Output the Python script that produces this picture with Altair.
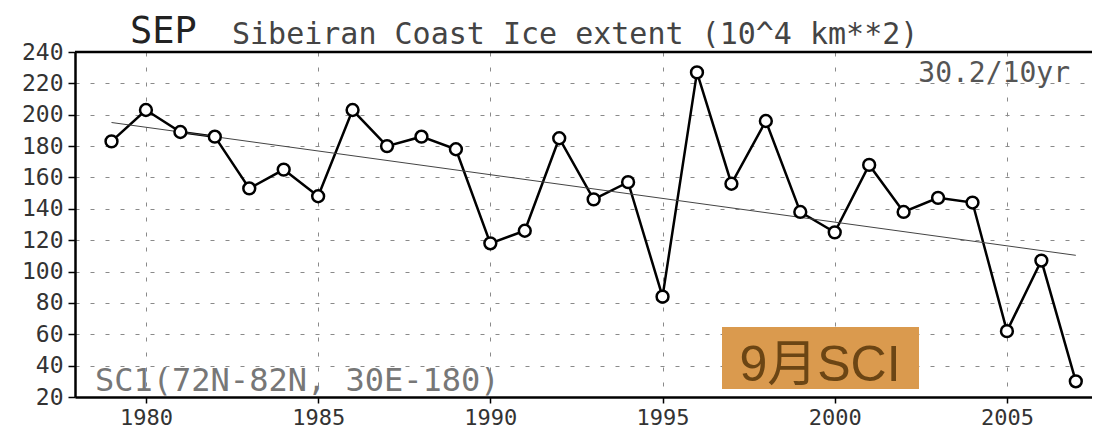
import altair as alt
import pandas as pd

# ---- data ----
years = list(range(1979, 2008))
extent = [183, 203, 189, 186, 153, 165, 148, 203, 180, 186, 178, 118, 126, 185,
          146, 157, 84, 227, 156, 196, 138, 125, 168, 138, 147, 144, 62, 107, 30]
x_ticks = [1980, 1985, 1990, 1995, 2000, 2005]
y_ticks = [20, 40, 60, 80, 100, 120, 140, 160, 180, 200, 220, 240]
title_main = ["SEP"]
title_rest = ["Sibeiran  Coast  Ice  extent  (10^4  km**2)"]
trend_label = ["30.2/10yr"]
region_label = ["SC1(72N-82N, 30E-180)"]
badge_label = ["9月SCI"]

W, H = 1017, 345
MONO = "DejaVu Sans Mono"

df = pd.DataFrame({"year": years, "value": extent})

xscale = alt.Scale(domain=[1977.94, 2007.47], nice=False, zero=False)
yscale = alt.Scale(domain=[20, 240], nice=False, zero=False)

xaxis = alt.Axis(values=x_ticks, format="d", title=None, labelFont=MONO,
                 labelFontSize=22, labelColor="#333", labelPadding=21,
                 labelBaseline="alphabetic",
                 labelOverlap=False, labelFlush=False,
                 tickColor="black", tickSize=6, tickWidth=1.5,
                 domainColor="black", domainWidth=2.5,
                 grid=True, gridDash=[4, 11], gridColor="#8a8a8a", gridWidth=1)
yaxis = alt.Axis(values=y_ticks, format="d", title=None, labelFont=MONO,
                 labelFontSize=23, labelColor="#333", labelPadding=5,
                 labelOverlap=False, labelFlush=False,
                 tickColor="black", tickSize=7, tickWidth=1.5,
                 domainColor="black", domainWidth=2.5,
                 grid=True, gridDash=[4, 11], gridColor="#8a8a8a", gridWidth=1)

X = alt.X("year:Q", scale=xscale, axis=xaxis)
Y = alt.Y("value:Q", scale=yscale, axis=yaxis)

base = alt.Chart(df)

line = base.mark_line(color="black", strokeWidth=2.5).encode(x=X, y=Y)

trend = base.transform_regression("year", "value").mark_line(
    color="#444", strokeWidth=1
).encode(x=X, y=Y)

points = base.mark_point(filled=True, fill="white", stroke="black",
                         strokeWidth=2.5, size=140, opacity=1).encode(x=X, y=Y)

top_border = alt.Chart(pd.DataFrame({"t": [0]})).mark_rule(
    color="black", strokeWidth=2.5).encode(
    x=alt.value(0), x2=alt.value(W), y=alt.value(0))

badge_box = alt.Chart(pd.DataFrame({"t": badge_label})).mark_rect(
    color="#DA9A4E").encode(
    x=alt.value(647), x2=alt.value(844), y=alt.value(275), y2=alt.value(337))

badge_text = alt.Chart(pd.DataFrame({"t": badge_label})).mark_text(
    font="Liberation Sans, Noto Sans CJK JP", fontSize=50, color="#6B4514",
    align="center", baseline="alphabetic").encode(
    x=alt.value(745), y=alt.value(329), text="t:N")

t_sep = alt.Chart(pd.DataFrame({"t": title_main})).mark_text(
    font=MONO, fontSize=37, color="#222", align="left",
    baseline="alphabetic").encode(x=alt.value(55), y=alt.value(-9), text="t:N")

t_rest = alt.Chart(pd.DataFrame({"t": title_rest})).mark_text(
    font=MONO, fontSize=30, color="#444", align="left",
    baseline="alphabetic").encode(x=alt.value(157), y=alt.value(-8), text="t:N")

t_trend = alt.Chart(pd.DataFrame({"t": trend_label})).mark_text(
    font=MONO, fontSize=28, color="#555", align="right",
    baseline="alphabetic").encode(x=alt.value(995), y=alt.value(30), text="t:N")

t_region = alt.Chart(pd.DataFrame({"t": region_label})).mark_text(
    font=MONO, fontSize=32, color="#777", align="left",
    baseline="alphabetic").encode(x=alt.value(20), y=alt.value(339), text="t:N")

chart = alt.layer(
    line, badge_box, badge_text, trend, points, top_border,
    t_sep, t_rest, t_trend, t_region
).properties(
    width=W, height=H,
    autosize=alt.AutoSizeParams(type="none"),
    padding={"left": 67, "top": 44, "right": 0, "bottom": 34},
    background="white",
).configure_view(stroke="transparent")

chart.save("out.html", embed_options={"renderer": "svg", "actions": False})
